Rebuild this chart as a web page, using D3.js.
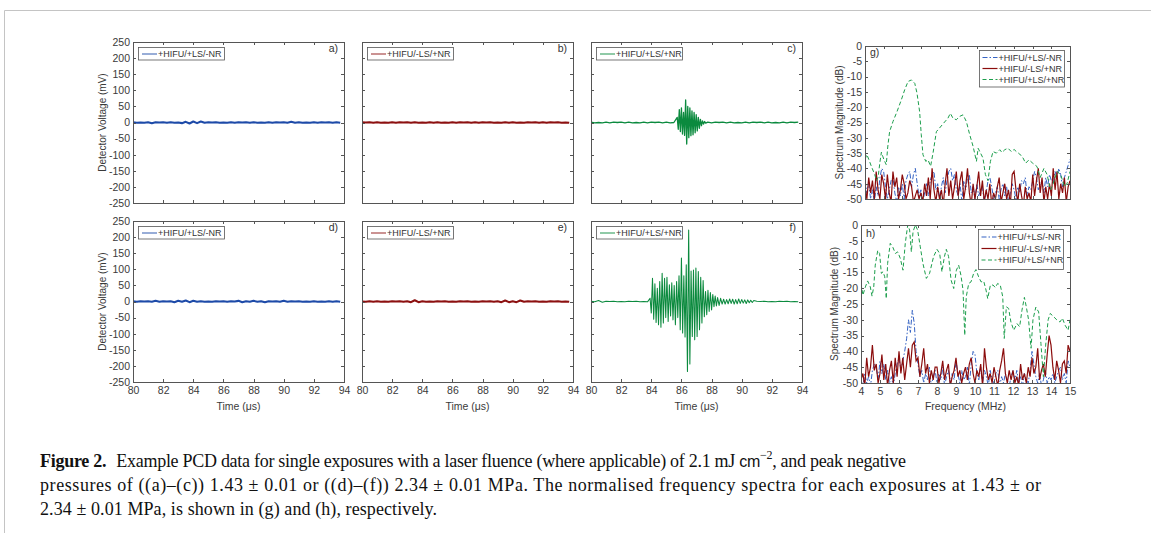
<!DOCTYPE html>
<html>
<head>
<meta charset="utf-8">
<title>Figure 2 - PCD data</title>
<script src="https://d3js.org/d3.v7.min.js"></script>
<style>
  body { margin: 0; background: #fff; }
</style>
</head>
<body>
<svg width="1151" height="533"></svg>
<script>
// ---- values ----

// time axis (us) for the baseline noise of the detector traces
const timeGrid = [
  80.00, 80.25, 80.50, 80.75, 81.00, 81.25, 81.50, 81.75,
  82.00, 82.25, 82.50, 82.75, 83.00, 83.25, 83.50, 83.75,
  84.00, 84.25, 84.50, 84.75, 85.00, 85.25, 85.50, 85.75,
  86.00, 86.25, 86.50, 86.75, 87.00, 87.25, 87.50, 87.75,
  88.00, 88.25, 88.50, 88.75, 89.00, 89.25, 89.50, 89.75,
  90.00, 90.25, 90.50, 90.75, 91.00, 91.25, 91.50, 91.75,
  92.00, 92.25, 92.50, 92.75, 93.00, 93.25, 93.50, 93.75
];

// baseline noise (mV) on timeGrid
const noiseA = [
   1, -1,  0, -1,  1, -2,  1,  0,
   1, -1,  1, -1,  0, -2,  2, -3,
   3, -2,  3, -1,  1,  0,  1, -1,
   0, -1,  1, -1,  1,  0,  1, -1,
   1, -1,  0, -1,  1, -1,  1,  0,
   1, -1,  2, -1,  1, -1,  0, -1,
   1, -1,  1,  0,  1, -1,  1, -1
];
const noiseB = [
   1,  0,  1, -1,  1, -1,  0, -1,
   1, -1,  1,  0,  1, -1,  1, -1,
   0, -1,  1, -1,  1, -1,  0, -1,
   1, -1,  1,  0,  1, -1,  1, -1,
   1,  0,  1, -1,  0, -1,  1, -1,
   1, -1,  0, -1,  1,  0,  1, -1,
   1, -1,  1,  0,  1, -1,  0, -1
];
const noiseC = [
   1, -1,  0, -1,  1, -1,  1,  0,
   1, -1,  1, -1,  0, -1,  1, -1,
   1,  0,  1, -1,  1, -1,  0, -1,
   1, -1,  1, -1,  1, -1,  0,  1,
  -1,  1,  0,  1, -1,  1, -1,  0,
  -1,  1, -1,  1,  0,  1, -1,  1,
  -1,  0, -1,  1, -1,  1,  0,  1
];
const noiseD = [
   1, -1,  1,  0,  1, -1,  2, -1,
   1,  0,  1, -2,  2, -1,  3, -2,
   2, -1,  1, -1,  0, -1,  1,  0,
   1, -1,  1,  0,  2, -2,  1, -1,
   2, -1,  1, -2,  1,  0,  1, -1,
   2, -1,  1,  0,  1, -1,  0, -1,
   1, -1,  0, -1,  1, -1,  1, -1
];
const noiseE = [
   0, -1,  1, -1,  1, -1,  0, -1,
   1,  0,  1, -1,  1, -2,  4, -2,
   1, -1,  0, -1,  1,  0,  1, -1,
   0, -1,  1,  0,  1, -1,  0, -1,
   1,  0,  1, -1,  1, -2,  3, -2,
   1, -2,  3, -1,  1,  0,  1, -1,
   0, -1,  1,  0,  1, -1,  0, -1
];
const noiseF = [
   1, -1,  3, -2,  1,  0,  1, -1,
   0, -1,  1,  0,  1, -1,  0, -1,
   1, -1,  0, -1,  1,  0,  1, -1,
   0, -1,  1,  0,  1, -1,  0, -1,
   1,  0,  1, -1,  0, -1,  1,  0,
   1, -1,  0, -1,  1,  0,  1, -1,
   0, -1,  1,  0,  1, -1,  0, -1
];

// acoustic bursts: times (us) and voltages (mV)
const burstTimeC = [
  85.72, 85.79, 85.86, 85.93, 86.00, 86.07, 86.14, 86.21, 86.28, 86.35,
  86.42, 86.49, 86.56, 86.63, 86.70, 86.77, 86.84, 86.91, 86.98, 87.05,
  87.12, 87.19, 87.26, 87.33, 87.40, 87.47, 87.54, 87.61
];
const burstC = [
  16, -21, 40, -28, 45, -36, 31, -40, 70, -67,
  50, -47, 45, -41, 36, -38, 31, -32, 24, -26,
  16, -18, 10, -10, 5, -5, 3, -2
];
const burstTimeF = [
  83.92, 84.00, 84.08, 84.16, 84.24, 84.32, 84.40, 84.48, 84.56, 84.64,
  84.72, 84.80, 84.88, 84.96, 85.04, 85.12, 85.20, 85.28, 85.36, 85.44,
  85.52, 85.60, 85.68, 85.76, 85.84, 85.92, 86.00, 86.08, 86.16, 86.24,
  86.32, 86.40, 86.48, 86.56, 86.64, 86.72, 86.80, 86.88, 86.96, 87.04,
  87.12, 87.20, 87.28, 87.36, 87.44, 87.52, 87.60, 87.68, 87.76, 87.84,
  87.92, 88.00, 88.08, 88.16, 88.24, 88.32, 88.40, 88.50, 88.60, 88.70,
  88.80, 88.90, 89.00, 89.10, 89.20, 89.30, 89.40, 89.50, 89.60, 89.70,
  89.80, 89.90, 90.00, 90.10, 90.20, 90.30, 90.40, 90.50, 90.60, 90.70,
  90.80
];
const burstF = [
  10, -36, 72, -55, 55, -65, 41, -72, 62, -80,
  88, -67, 72, -50, 75, -62, 52, -45, 58, -57,
  50, -72, 62, -50, 80, -88, 135, -98, 80, -110,
  114, -217, 222, -194, 95, -109, 98, -119, 104, -109,
  93, -88, 75, -67, 65, -47, 31, -41, 35, -31,
  28, -26, 22, -16, 17, -14, 12, -12, 10, -8,
  7, -8, 6, -7, 8, -6, 7, -8, 6, -7,
  8, -6, 6, -5, 5, -6, 5, -4, 4, -3,
  3
];

// tick values
const timeTicks = [80, 82, 84, 86, 88, 90, 92, 94];
const voltTicks = [-250, -200, -150, -100, -50, 0, 50, 100, 150, 200, 250];
const freqTicks = [4, 5, 6, 7, 8, 9, 10, 11, 12, 13, 14, 15];
const dbTicks = [-50, -45, -40, -35, -30, -25, -20, -15, -10, -5, 0];

// frequency bins (MHz) for the noise-floor spectra
const freqGrid = [
   4.0,  4.1,  4.2,  4.3,  4.4,  4.5,  4.6,  4.7,  4.8,  4.9,
   5.0,  5.1,  5.2,  5.3,  5.4,  5.5,  5.6,  5.7,  5.8,  5.9,
   6.0,  6.1,  6.2,  6.3,  6.4,  6.5,  6.6,  6.7,  6.8,  6.9,
   7.0,  7.1,  7.2,  7.3,  7.4,  7.5,  7.6,  7.7,  7.8,  7.9,
   8.0,  8.1,  8.2,  8.3,  8.4,  8.5,  8.6,  8.7,  8.8,  8.9,
   9.0,  9.1,  9.2,  9.3,  9.4,  9.5,  9.6,  9.7,  9.8,  9.9,
  10.0, 10.1, 10.2, 10.3, 10.4, 10.5, 10.6, 10.7, 10.8, 10.9,
  11.0, 11.1, 11.2, 11.3, 11.4, 11.5, 11.6, 11.7, 11.8, 11.9,
  12.0, 12.1, 12.2, 12.3, 12.4, 12.5, 12.6, 12.7, 12.8, 12.9,
  13.0, 13.1, 13.2, 13.3, 13.4, 13.5, 13.6, 13.7, 13.8, 13.9,
  14.0, 14.1, 14.2, 14.3, 14.4, 14.5, 14.6, 14.7, 14.8, 14.9,
  15.0
];

// spectrum magnitude (dB) on freqGrid, panel g (1.43 MPa)
const specBlueG = [
  -44, -48, -45, -50, -47, -51, -46, -49, -43, -40,
  -41, -46, -50, -47, -44, -43, -48, -51, -46, -49,
  -45, -50, -44, -42, -41, -46, -42, -40, -45, -49,
  -47, -51, -48, -45, -49, -44, -42, -41, -47, -45,
  -50, -46, -43, -48, -44, -41, -40, -44, -42, -47,
  -49, -45, -51, -44, -47, -43, -42, -48, -46, -50,
  -45, -49, -47, -46, -51, -48, -44, -43, -46, -50,
  -48, -46, -50, -47, -45, -49, -46, -51, -48, -45,
  -47, -50, -46, -48, -44, -45, -43, -49, -46, -47,
  -44, -41, -43, -47, -45, -44, -48, -43, -46, -42,
  -44, -45, -41, -43, -40, -42, -46, -43, -41, -39,
  -37
];
const specRedG = [
  -46, -50, -43, -48, -44, -50, -41, -47, -50, -42,
  -45, -50, -42, -48, -51, -41, -46, -43, -50, -47,
  -42, -45, -50, -48, -44, -46, -51, -49, -47, -50,
  -48, -51, -45, -49, -43, -50, -40, -47, -51, -46,
  -50, -47, -52, -45, -40, -49, -44, -50, -46, -41,
  -49, -44, -41, -50, -46, -40, -48, -52, -45, -50,
  -46, -41, -49, -44, -51, -47, -50, -45, -52, -48,
  -50, -46, -43, -51, -48, -45, -50, -47, -52, -42,
  -41, -47, -51, -45, -49, -52, -46, -50, -48, -51,
  -42, -49, -44, -40, -48, -43, -51, -46, -50, -45,
  -49, -40, -47, -41, -50, -45, -48, -43, -51, -46,
  -44
];
// green curve of panel g, read as [MHz, dB]
const specGreenG = [
  [4.0, -37], [4.1, -35.5], [4.2, -37], [4.34, -39.3], [4.52, -42], [4.62, -44],
  [4.7, -43], [4.8, -38], [4.88, -34.7], [4.95, -36], [5.02, -37.2], [5.14, -38.8],
  [5.22, -33], [5.32, -28], [5.5, -24.7], [5.72, -21.4], [5.95, -17.6], [6.13, -14.3],
  [6.31, -11.6], [6.49, -11.1], [6.67, -12.2], [6.79, -15.4], [6.93, -21.4], [7.02, -29],
  [7.11, -35.5], [7.26, -37.7], [7.38, -37.2], [7.52, -39.3], [7.65, -35], [7.83, -28],
  [8.0, -26.8], [8.22, -25.2], [8.45, -23.6], [8.58, -22], [8.72, -23.6], [8.9, -24.1],
  [9.08, -23], [9.26, -22.5], [9.44, -24.7], [9.62, -29], [9.8, -32.8], [9.98, -37.7],
  [10.07, -33.4], [10.2, -35], [10.33, -36.6], [10.46, -42], [10.6, -44], [10.73, -37.7],
  [10.87, -34.5], [11.05, -35], [11.23, -33.9], [11.35, -34.8], [11.5, -33.9], [11.67, -33.4],
  [11.85, -34.5], [12.0, -33.8], [12.12, -34.5], [12.3, -35.3], [12.48, -36.6], [12.62, -38.3],
  [12.8, -37.2], [13.0, -38.3], [13.23, -39.4], [13.4, -43], [13.6, -40], [13.77, -42],
  [13.95, -47], [14.1, -45], [14.3, -41], [14.5, -42], [14.7, -46], [14.85, -44.8],
  [15.0, -41]
];

// spectrum magnitude (dB) on freqGrid, panel h (2.34 MPa)
const specBlueH = [
  -49, -51, -47, -50, -48, -51, -46, -44, -45, -49,
  -43, -47, -44, -49, -46, -50, -48, -51, -47, -44,
  -42, -46, -43, -40, -36, -30, -34, -27, -31, -40,
  -44, -48, -46, -50, -47, -49, -45, -51, -48, -46,
  -50, -47, -49, -45, -51, -48, -46, -50, -47, -49,
  -43, -47, -50, -46, -49, -48, -45, -51, -44, -40,
  -41, -47, -49, -45, -50, -46, -48, -51, -46, -49,
  -50, -47, -46, -51, -48, -50, -47, -49, -51, -48,
  -46, -49, -46, -50, -48, -51, -47, -49, -50, -46,
  -40, -44, -48, -50, -47, -51, -49, -46, -50, -48,
  -49, -47, -50, -48, -46, -45, -49, -47, -50, -43,
  -45
];
const specRedH = [
  -49, -47, -51, -42, -48, -45, -38, -46, -44, -50,
  -47, -41, -49, -44, -51, -46, -43, -50, -42, -48,
  -40, -47, -42, -49, -44, -39, -45, -38, -37, -43,
  -42, -48, -44, -39, -47, -44, -50, -46, -49, -45,
  -45, -50, -47, -43, -49, -46, -44, -51, -48, -46,
  -42, -48, -46, -50, -47, -45, -49, -44, -42, -47,
  -50, -46, -48, -44, -51, -39, -45, -49, -47, -50,
  -45, -48, -51, -46, -43, -39, -47, -50, -46, -49,
  -46, -50, -48, -51, -44, -49, -47, -50, -45, -48,
  -42, -47, -45, -39, -49, -46, -44, -48, -41, -35,
  -38, -45, -49, -43, -46, -50, -44, -43, -47, -38,
  -40
];
// green curve of panel h, read as [MHz, dB]
const specGreenH = [
  [4.0, -18.5], [4.1, -22.2], [4.23, -19.6], [4.35, -17.7], [4.49, -19.6], [4.58, -22.5],
  [4.67, -19.6], [4.75, -12.7], [4.88, -8.1], [4.98, -9], [5.07, -15.3], [5.16, -14.8],
  [5.25, -16.4], [5.33, -23.3], [5.4, -12.2], [5.54, -5.8], [5.68, -7.1], [5.81, -9],
  [5.93, -8.5], [6.07, -10.6], [6.21, -14.3], [6.33, -5.8], [6.46, 0], [6.56, -1.6],
  [6.65, -8.5], [6.74, -2.1], [6.86, 0], [6.98, -1.6], [7.12, -6.9], [7.26, -12.2],
  [7.44, -16.9], [7.61, -15.3], [7.82, -10], [8.0, -7.7], [8.14, -9], [8.26, -14.8],
  [8.39, -10], [8.49, -7.7], [8.61, -10], [8.74, -17.4], [8.88, -20.1], [9.02, -14.3],
  [9.14, -12.7], [9.26, -15.9], [9.37, -20.6], [9.46, -34.9], [9.54, -22.7], [9.67, -18.5],
  [9.79, -18], [9.93, -15.3], [10.05, -14.1], [10.19, -16.4], [10.32, -18], [10.46, -17.8],
  [10.58, -20.6], [10.67, -23.3], [10.81, -19], [10.95, -19], [11.07, -19.8], [11.19, -18.5],
  [11.33, -19], [11.46, -22.7], [11.54, -35.9], [11.65, -25.9], [11.77, -26.4], [11.89, -30.7],
  [12.04, -33.3], [12.21, -31.2], [12.35, -32.2], [12.47, -27], [12.6, -22.9], [12.7, -25.9],
  [12.82, -30], [12.95, -39], [13.05, -30], [13.2, -26], [13.35, -27.5], [13.47, -37.5],
  [13.6, -48], [13.72, -38], [13.85, -30], [13.96, -28], [14.14, -29], [14.3, -30],
  [14.47, -30.7], [14.6, -29.5], [14.74, -31.7], [14.9, -33.3], [15.0, -30]
];

const seriesNames = ["+HIFU/+LS/-NR", "+HIFU/-LS/+NR", "+HIFU/+LS/+NR"];

// ---- drawing ----
const svg = d3.select("svg");
const sans = "'Liberation Sans', Arial, sans-serif";
const serif = "'Liberation Serif', 'Times New Roman', serif";
const axisColor = "#555", textColor = "#3a3a3a";
const traceColors = ["#1d4aa8", "#8c1010", "#0b8a3e"];
const specColors = ["#3563c4", "#8b0c0c", "#1c9e4c"];
const specDash = ["5,2,1.5,2", null, "4,2.5"];

// figure frame
svg.append("path")
   .attr("d", "M4.5,533V10.5H1151")
   .attr("fill", "none").attr("stroke", "#c4c4c4").attr("stroke-width", 1);

function withBurst(noise, bt, bv) {
  const t0 = bt[0], t1 = bt[bt.length - 1];
  const base = timeGrid.map((t, i) => [t, noise[i]]).filter(d => d[0] < t0 || d[0] > t1);
  return base.concat(bt.map((t, i) => [t, bv[i]])).sort((a, b) => a[0] - b[0]);
}
const onGrid = noise => timeGrid.map((t, i) => [t, noise[i]]);

function drawAxes(x, y, xt, yt, showX, showY) {
  const [x0, x1] = x.range(), [y0, y1] = y.range();
  const ax = svg.append("g");
  const fmt = d => String(d);
  ax.append("g").attr("transform", `translate(0,${y0})`)
    .call(d3.axisBottom(x).tickValues(xt).tickSize(-3).tickSizeOuter(0).tickPadding(5)
      .tickFormat(showX ? fmt : () => ""));
  ax.append("g").attr("transform", `translate(0,${y1})`)
    .call(d3.axisTop(x).tickValues(xt).tickSize(-3).tickSizeOuter(0).tickFormat(() => ""));
  ax.append("g").attr("transform", `translate(${x0},0)`)
    .call(d3.axisLeft(y).tickValues(yt).tickSize(-3).tickSizeOuter(0).tickPadding(3)
      .tickFormat(showY ? fmt : () => ""));
  ax.append("g").attr("transform", `translate(${x1},0)`)
    .call(d3.axisRight(y).tickValues(yt).tickSize(-3).tickSizeOuter(0).tickFormat(() => ""));
  ax.selectAll("path.domain").attr("stroke", axisColor).attr("shape-rendering", "crispEdges");
  ax.selectAll(".tick line").attr("stroke", axisColor).attr("shape-rendering", "crispEdges");
  ax.selectAll("text").attr("fill", textColor).attr("font-size", 10.5).attr("font-family", sans);
}

function clipRect(id, x, y, w, h) {
  svg.append("clipPath").attr("id", id).append("rect")
     .attr("x", x).attr("y", y).attr("width", w).attr("height", h);
  return `url(#${id})`;
}

const TW = 211, TH = 161;
const timePanels = [
  { tag: "a", left: 133, top: 42,  pts: onGrid(noiseA), s: 0, w: 2.1, showX: false, showY: true },
  { tag: "b", left: 362, top: 42,  pts: onGrid(noiseB), s: 1, w: 2.1, showX: false, showY: false },
  { tag: "c", left: 591, top: 42,  pts: withBurst(noiseC, burstTimeC, burstC), s: 2, w: 1.3, showX: false, showY: false },
  { tag: "d", left: 133, top: 221, pts: onGrid(noiseD), s: 0, w: 2.1, showX: true, showY: true },
  { tag: "e", left: 362, top: 221, pts: onGrid(noiseE), s: 1, w: 2.1, showX: true, showY: false },
  { tag: "f", left: 591, top: 221, pts: withBurst(noiseF, burstTimeF, burstF), s: 2, w: 1.05, showX: true, showY: false }
];

timePanels.forEach(p => {
  const x = d3.scaleLinear().domain([80, 94]).range([p.left, p.left + TW]);
  const y = d3.scaleLinear().domain([-250, 250]).range([p.top + TH, p.top]);
  const clip = clipRect("clip-" + p.tag, p.left, p.top, TW, TH);
  svg.append("path").datum(p.pts)
     .attr("clip-path", clip)
     .attr("fill", "none").attr("stroke", traceColors[p.s])
     .attr("stroke-width", p.w).attr("stroke-linejoin", "round")
     .attr("d", d3.line().x(d => x(d[0])).y(d => y(d[1])));
  drawAxes(x, y, timeTicks, voltTicks, p.showX, p.showY);

  // legend
  const lg = svg.append("g");
  lg.append("rect").attr("x", p.left + 5.5).attr("y", p.top + 5.5)
    .attr("width", 86).attr("height", 12.5)
    .attr("fill", "#fff").attr("stroke", "#555").attr("stroke-width", 0.8);
  lg.append("line").attr("x1", p.left + 9).attr("x2", p.left + 24)
    .attr("y1", p.top + 12).attr("y2", p.top + 12)
    .attr("stroke", traceColors[p.s]).attr("stroke-width", 1.5).attr("opacity", 0.6);
  lg.append("text").attr("x", p.left + 25).attr("y", p.top + 12).attr("dy", "0.35em")
    .attr("font-family", sans).attr("font-size", 9).attr("fill", "#333")
    .text(seriesNames[p.s]);

  svg.append("text").attr("x", p.left + TW - 6).attr("y", p.top + 9.5)
     .attr("text-anchor", "end").attr("font-family", sans).attr("font-size", 10.5)
     .attr("fill", "#333").text(p.tag + ")");

  if (p.showX) {
    svg.append("text").attr("x", p.left + TW / 2).attr("y", 409.5)
       .attr("text-anchor", "middle").attr("font-family", sans).attr("font-size", 10.5)
       .attr("fill", textColor).text("Time (\u03bcs)");
  }
});

[122.5, 301.5].forEach(cy => {
  svg.append("text").attr("transform", `translate(105.5,${cy}) rotate(-90)`)
     .attr("text-anchor", "middle").attr("font-family", sans).attr("font-size", 10)
     .attr("fill", textColor).text("Detector Voltage (mV)");
});

// spectrum panels
const specPanels = [
  { tag: "g", left: 865, top: 46, h: 153, blue: specBlueG, red: specRedG, green: specGreenG,
    showX: false, tagY: 55.5, labelX: 843, legend: { x: 979.5, y: 50.5, h: 36.5, rows: [57.5, 68.5, 79.5] } },
  { tag: "h", left: 861, top: 225, h: 158, blue: specBlueH, red: specRedH, green: specGreenH,
    showX: true, tagY: 237, labelX: 838, legend: { x: 978.5, y: 229.5, h: 40, rows: [237, 248.5, 260] } }
];

specPanels.forEach(p => {
  const right = 1070;
  const x = d3.scaleLinear().domain([4, 15]).range([p.left, right]);
  const y = d3.scaleLinear().domain([-50, 0]).range([p.top + p.h, p.top]);
  const clip = clipRect("clip-" + p.tag, p.left, p.top, right - p.left, p.h);
  const line = d3.line().x(d => x(d[0])).y(d => y(d[1]));
  const series = [
    freqGrid.map((f, i) => [f, p.blue[i]]),
    freqGrid.map((f, i) => [f, p.red[i]]),
    p.green
  ];
  series.forEach((pts, s) => {
    svg.append("path").datum(pts).attr("clip-path", clip)
       .attr("fill", "none").attr("stroke", specColors[s]).attr("stroke-width", s === 1 ? 1.2 : 1)
       .attr("stroke-dasharray", specDash[s]).attr("d", line);
  });
  drawAxes(x, y, freqTicks, dbTicks, p.showX, true);

  svg.append("text").attr("x", p.left + 5).attr("y", p.tagY)
     .attr("font-family", sans).attr("font-size", 10.5).attr("fill", "#333").text(p.tag + ")");

  const L = p.legend;
  const lg = svg.append("g");
  lg.append("rect").attr("x", L.x).attr("y", L.y).attr("width", 85).attr("height", L.h)
    .attr("fill", "#fff").attr("stroke", "#555").attr("stroke-width", 0.8);
  L.rows.forEach((ry, s) => {
    lg.append("line").attr("x1", L.x + 3).attr("x2", L.x + 18).attr("y1", ry).attr("y2", ry)
      .attr("stroke", specColors[s]).attr("stroke-width", 1.2)
      .attr("stroke-dasharray", specDash[s]);
    lg.append("text").attr("x", L.x + 19).attr("y", ry).attr("dy", "0.35em")
      .attr("font-family", sans).attr("font-size", 9).attr("fill", "#333").text(seriesNames[s]);
  });

  svg.append("text").attr("transform", `translate(${p.labelX},${p.top + p.h / 2}) rotate(-90)`)
     .attr("text-anchor", "middle").attr("font-family", sans).attr("font-size", 10)
     .attr("fill", textColor).text("Spectrum Magnitude (dB)");
  if (p.showX) {
    svg.append("text").attr("x", (p.left + right) / 2).attr("y", 409.5)
       .attr("text-anchor", "middle").attr("font-family", sans).attr("font-size", 10.5)
       .attr("fill", textColor).text("Frequency (MHz)");
  }
});

// caption
const cap = svg.append("g").attr("font-family", serif).attr("font-size", 18).attr("fill", "#111");
const l1 = cap.append("text").attr("x", 40).attr("y", 467)
  .attr("textLength", 866).attr("lengthAdjust", "spacing");
l1.append("tspan").attr("font-weight", "bold").text("Figure 2.");
l1.append("tspan").attr("dx", 6).text(" Example PCD data for single exposures with a laser fluence (where applicable) of 2.1 mJ ");
l1.append("tspan").attr("font-family", sans).attr("font-size", 16).text("cm");
l1.append("tspan").attr("font-size", 12).attr("dy", -8).text("\u22122");
l1.append("tspan").attr("dy", 8).text(", and peak negative");
cap.append("text").attr("x", 40).attr("y", 491)
  .attr("textLength", 1001).attr("lengthAdjust", "spacing")
  .text("pressures of ((a)\u2013(c)) 1.43 \u00b1 0.01 or ((d)\u2013(f)) 2.34 \u00b1 0.01 MPa. The normalised frequency spectra for each exposures at 1.43 \u00b1 or");
cap.append("text").attr("x", 40).attr("y", 515)
  .attr("textLength", 397).attr("lengthAdjust", "spacing")
  .text("2.34 \u00b1 0.01 MPa, is shown in (g) and (h), respectively.");
</script>
</body>
</html>
